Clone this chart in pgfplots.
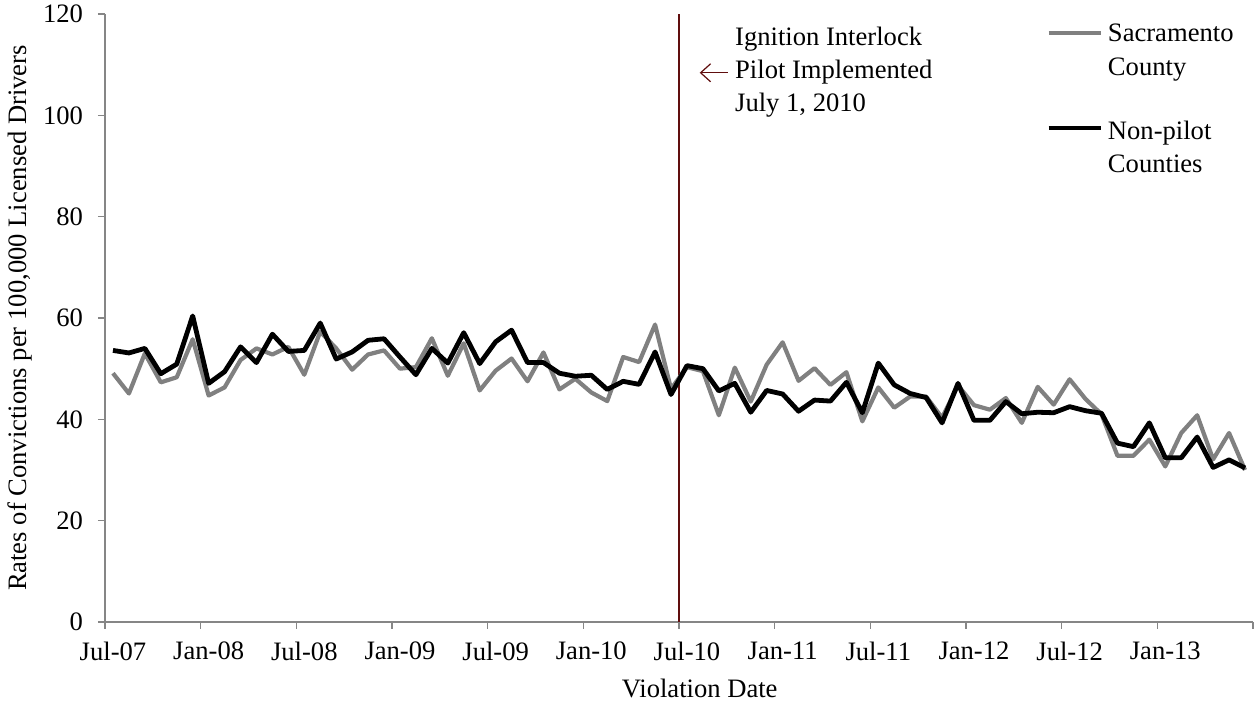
\documentclass[border=0pt]{standalone}
\usepackage{fontspec}
\setmainfont{Liberation Serif}
\usepackage{pgfplots}
\usepackage{pgfplotstable}
\pgfplotsset{compat=1.18}
\usetikzlibrary{arrows.meta}
\definecolor{sacgray}{RGB}{128,128,128}
\definecolor{axisgray}{RGB}{134,134,134}
\definecolor{pilotred}{RGB}{96,14,14}

\pgfplotstableread{
m sac non
0.5 49.1 53.6
1.5 45.1 53.1
2.5 53.0 54.0
3.5 47.3 49.0
4.5 48.3 50.9
5.5 55.8 60.4
6.5 44.7 47.1
7.5 46.3 49.4
8.5 51.7 54.3
9.5 54.0 51.2
10.5 52.8 56.8
11.5 54.3 53.4
12.5 48.8 53.6
13.5 57.3 59.0
14.5 54.0 51.9
15.5 49.8 53.3
16.5 52.8 55.6
17.5 53.6 55.9
18.5 50.0 52.3
19.5 50.3 48.8
20.5 56.0 54.0
21.5 48.6 51.1
22.5 55.0 57.1
23.5 45.7 51.0
24.5 49.6 55.3
25.5 52.0 57.6
26.5 47.5 51.2
27.5 53.2 51.2
28.5 45.9 49.1
29.5 48.0 48.5
30.5 45.3 48.7
31.5 43.6 45.9
32.5 52.3 47.5
33.5 51.3 46.9
34.5 58.7 53.3
35.5 46.0 44.9
36.5 50.3 50.6
37.5 49.5 50.0
38.5 40.8 45.6
39.5 50.2 47.1
40.5 43.5 41.4
41.5 50.8 45.7
42.5 55.2 45.0
43.5 47.6 41.6
44.5 50.1 43.8
45.5 46.8 43.6
46.5 49.3 47.3
47.5 39.6 41.3
48.5 46.3 51.1
49.5 42.3 46.8
50.5 44.5 45.1
51.5 44.5 44.3
52.5 40.3 39.3
53.5 46.7 47.1
54.5 42.8 39.8
55.5 41.9 39.8
56.5 44.2 43.5
57.5 39.3 41.1
58.5 46.4 41.4
59.5 42.9 41.3
60.5 47.9 42.5
61.5 44.0 41.7
62.5 41.0 41.2
63.5 32.8 35.3
64.5 32.8 34.6
65.5 36.0 39.3
66.5 30.7 32.4
67.5 37.3 32.4
68.5 40.8 36.5
69.5 32.1 30.5
70.5 37.3 32.0
71.5 30.0 30.4
}\datatable

\begin{document}
\begin{tikzpicture}
\begin{axis}[
  scale only axis, width=574pt, height=304pt,
  xmin=0, xmax=72, ymin=0, ymax=120,
  axis x line*=bottom, axis y line*=left,
  axis line style={axisgray, line width=0.75pt},
  xtick={0,6,...,72},
  xticklabels={Jul-07,Jan-08,Jul-08,Jan-09,Jul-09,Jan-10,Jul-10,Jan-11,Jul-11,Jan-12,Jul-12,Jan-13,{}},
  ytick={0,20,...,120},
  tick style={axisgray, line width=0.75pt},
  major tick length=3.5pt,
  tick align=outside,
  xticklabel style={xshift=4pt, yshift=-3pt},
  yticklabel style={xshift=-4pt},
  tick label style={font=\fontsize{13.3}{16}\selectfont},
  label style={font=\fontsize{13.3}{16}\selectfont},
  /pgf/number format/assume math mode=true,
  xlabel={Violation Date},
  ylabel={Rates of Convictions per 100,000 Licensed Drivers},
  xlabel style={at={(axis description cs:0.518,-0.1086)}, anchor=center},
  ylabel style={at={(axis description cs:-0.074,0.5)}, anchor=center},
  clip=false,
  line join=round,
]
\coordinate (bl) at (rel axis cs:0,0);
\addplot[pilotred, line width=0.7pt] coordinates {(36,0) (36,120)};
\addplot[sacgray, line width=2.1pt, line join=round] table[x=m,y=sac]{\datatable};
\addplot[black, line width=2.4pt, line join=round] table[x=m,y=non]{\datatable};

% annotation
\draw[pilotred, line width=0.6pt, {Straight Barb[length=5pt,width=9pt]}-] (axis cs:37.3,108.4) -- (axis cs:39.06,108.4);
\node[anchor=base west, inner sep=0pt, font=\fontsize{13.3}{16}\selectfont] at (axis cs:39.5,113.7) {Ignition Interlock};
\node[anchor=base west, inner sep=0pt, font=\fontsize{13.3}{16}\selectfont] at (axis cs:39.5,107.2) {Pilot Implemented};
\node[anchor=base west, inner sep=0pt, font=\fontsize{13.3}{16}\selectfont] at (axis cs:39.5,100.7) {July 1, 2010};

% legend
\draw[sacgray, line width=2.1pt] (axis cs:59.19,116.25) -- (axis cs:62.45,116.25);
\node[anchor=base west, inner sep=0pt, font=\fontsize{13.3}{16}\selectfont] at (axis cs:62.88,114.5) {Sacramento};
\node[anchor=base west, inner sep=0pt, font=\fontsize{13.3}{16}\selectfont] at (axis cs:62.88,107.8) {County};
\draw[black, line width=2.4pt] (axis cs:59.19,97.5) -- (axis cs:62.45,97.5);
\node[anchor=base west, inner sep=0pt, font=\fontsize{13.3}{16}\selectfont] at (axis cs:62.88,95.3) {Non-pilot};
\node[anchor=base west, inner sep=0pt, font=\fontsize{13.3}{16}\selectfont] at (axis cs:62.88,88.8) {Counties};
\end{axis}
\pgfresetboundingbox
\path[use as bounding box] ([xshift=-52.5pt,yshift=-42pt]bl) rectangle ++(627pt,353pt);
\end{tikzpicture}
\end{document}
